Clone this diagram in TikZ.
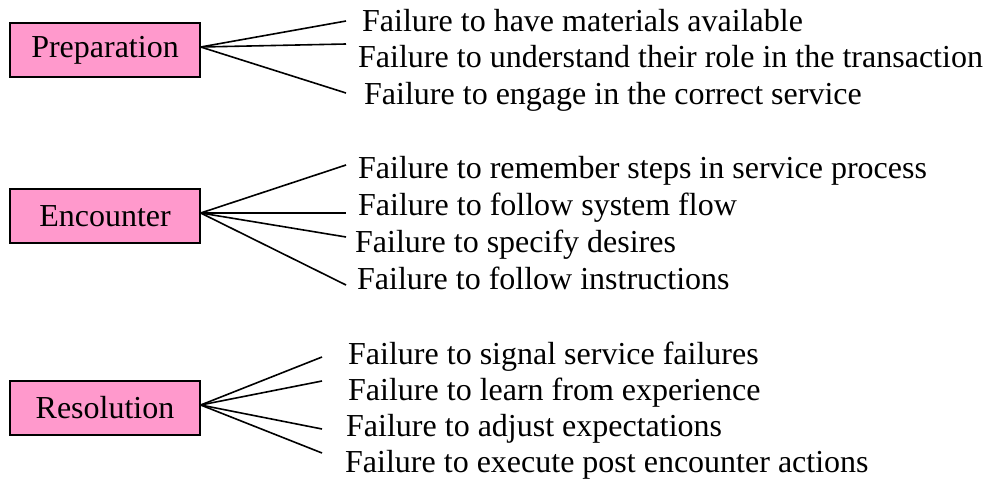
\documentclass[tikz,border=0pt]{standalone}
\usepackage{fontspec}
\setmainfont{Liberation Serif}
\definecolor{phasepink}{HTML}{FF99CC}

\begin{document}
\begin{tikzpicture}[x=1pt, y=-1pt,
		phase/.style={draw=black, line width=1.4pt, fill=phasepink, minimum width=190pt, minimum height=54pt, inner sep=0pt, font=\fontsize{32}{38}\selectfont},
		fail/.style={anchor=base west, inner sep=0pt, font=\fontsize{32}{38}\selectfont},
		ray/.style={line width=1.6pt}]
			%%%%% START %%%%%
			
			\useasboundingbox (0, 0) rectangle (988, 479);
			
			% Preparation
			\node[phase] (prep) at (105, 50) {Preparation};
			\coordinate (p1) at (346, 21);
			\coordinate (p2) at (346, 44);
			\coordinate (p3) at (346, 93);
			\node[fail] (pt1) at (362, 31) {Failure to have materials available};
			\node[fail] (pt2) at (358, 67) {Failure to understand their role in the transaction};
			\node[fail] (pt3) at (364, 104) {Failure to engage in the correct service};
			\draw[ray] ([yshift=3pt]prep.east) -- (p1);
			\draw[ray] ([yshift=3pt]prep.east) -- (p2);
			\draw[ray] ([yshift=3pt]prep.east) -- (p3);
			
			% Encounter
			\node[phase] (enc) at (105, 216) {Encounter};
			\coordinate (e1) at (346, 165);
			\coordinate (e2) at (346, 213);
			\coordinate (e3) at (346, 237);
			\coordinate (e4) at (346, 285);
			\node[fail] (et1) at (358, 178) {Failure to remember steps in service process};
			\node[fail] (et2) at (358, 215) {Failure to follow system flow};
			\node[fail] (et3) at (355, 252) {Failure to specify desires};
			\node[fail] (et4) at (357, 289) {Failure to follow instructions};
			\draw[ray] ([yshift=3pt]enc.east) -- (e1);
			\draw[ray] ([yshift=3pt]enc.east) -- (e2);
			\draw[ray] ([yshift=3pt]enc.east) -- (e3);
			\draw[ray] ([yshift=3pt]enc.east) -- (e4);
			
			% Resolution
			\node[phase] (res) at (105, 408) {Resolution};
			\coordinate (r1) at (322, 357);
			\coordinate (r2) at (322, 381);
			\coordinate (r3) at (322, 429);
			\coordinate (r4) at (322, 453);
			\node[fail] (rt1) at (348, 364) {Failure to signal service failures};
			\node[fail] (rt2) at (348, 400) {Failure to learn from experience};
			\node[fail] (rt3) at (346, 436) {Failure to adjust expectations};
			\node[fail] (rt4) at (345, 472) {Failure to execute post encounter actions};
			\draw[ray] ([yshift=3pt]res.east) -- (r1);
			\draw[ray] ([yshift=3pt]res.east) -- (r2);
			\draw[ray] ([yshift=3pt]res.east) -- (r3);
			\draw[ray] ([yshift=3pt]res.east) -- (r4);
			
			%%%%% END %%%%%
\end{tikzpicture}
\end{document}
